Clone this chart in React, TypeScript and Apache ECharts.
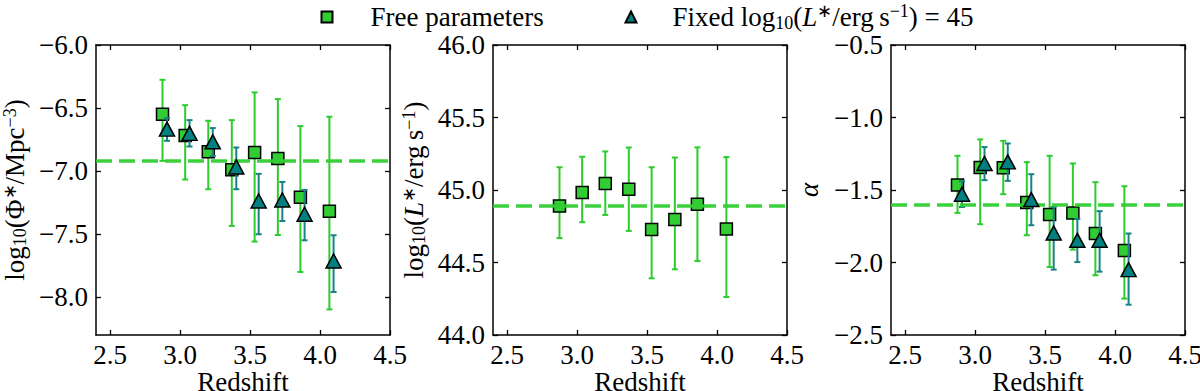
import React, { useEffect, useRef } from 'react';
import * as echarts from 'echarts';

// ---------- data ----------
const xTicks = [2.5, 3.0, 3.5, 4.0, 4.5];
const yTicksPhi = [-8.0, -7.5, -7.0, -6.5, -6.0];
const yTicksLum = [44.0, 44.5, 45.0, 45.5, 46.0];
const yTicksAlpha = [-2.5, -2.0, -1.5, -1.0, -0.5];

const zFree = [2.875, 3.037, 3.202, 3.37, 3.533, 3.699, 3.86, 4.067];
const zFixed = [2.907, 3.068, 3.234, 3.402, 3.562, 3.731, 3.89, 4.097];

const phiFree = [-6.55, -6.717, -6.847, -6.99, -6.853, -6.9, -7.207, -7.319];
const phiFreeLo = [-6.919, -7.067, -7.144, -7.435, -7.559, -7.507, -7.8, -8.097];
const phiFreeHi = [-6.276, -6.477, -6.601, -6.596, -6.376, -6.429, -6.643, -6.569];
const phiFixed = [-6.667, -6.701, -6.768, -6.967, -7.237, -7.229, -7.342, -7.713];
const phiFixedLo = [-6.76, -6.805, -6.88, -7.144, -7.501, -7.396, -7.549, -7.959];
const phiFixedHi = [-6.58, -6.596, -6.659, -6.813, -7.022, -7.086, -7.149, -7.509];

const lumFree = [44.89, 44.983, 45.045, 45.006, 44.727, 44.796, 44.902, 44.731];
const lumFreeLo = [44.669, 44.778, 44.828, 44.718, 44.391, 44.453, 44.51, 44.262];
const lumFreeHi = [45.157, 45.229, 45.266, 45.293, 45.157, 45.224, 45.294, 45.227];

const alphaFree = [-1.465, -1.345, -1.347, -1.586, -1.669, -1.658, -1.8, -1.918];
const alphaFreeLo = [-1.658, -1.736, -1.529, -1.812, -2.031, -1.911, -2.088, -2.249];
const alphaFreeHi = [-1.264, -1.151, -1.161, -1.308, -1.264, -1.317, -1.446, -1.474];
const alphaFixed = [-1.529, -1.317, -1.306, -1.566, -1.796, -1.847, -1.847, -2.049];
const alphaFixedLo = [-1.617, -1.432, -1.437, -1.743, -2.049, -1.997, -2.063, -2.291];
const alphaFixedHi = [-1.44, -1.204, -1.179, -1.391, -1.617, -1.7, -1.646, -1.8];

const fitLines = [-6.924, 44.89, -1.598];

// ---------- styles ----------
const FONT = 'Liberation Serif';
const GREEN = '#32cd32';
const GREEN_BAR = '#2ccc2c';
const TEAL = '#008080';
const TEAL_BAR = '#1a8284';

const fmt = (v: number) => (v < 0 ? '\u2212' : '') + Math.abs(v).toFixed(1);

const txt = (size: number, lh: number, extra: any = {}) => ({
  fontFamily: FONT,
  fontSize: size,
  color: '#000',
  lineHeight: lh,
  ...extra,
});

const nameRich = {
  n: txt(27, 28),
  i: txt(27, 28, { fontStyle: 'italic' }),
  sub: txt(18, 14, { verticalAlign: 'bottom' }),
  sup: txt(18, 14, { verticalAlign: 'top' }),
};

const labelRich = { a: txt(27, 29) };
const xNameRich = { a: txt(27, 20) };

const grids = [
  { left: 96, top: 45, width: 294, height: 290, outerBoundsMode: 'none', containLabel: false },
  { left: 493, top: 45, width: 294, height: 290, outerBoundsMode: 'none', containLabel: false },
  { left: 891, top: 45, width: 294, height: 290, outerBoundsMode: 'none', containLabel: false },
];

const axisLine = { show: true, onZero: false, lineStyle: { color: '#000', width: 1.5 } };

function makeXAxes(gi: number) {
  const base = {
    type: 'value',
    gridIndex: gi,
    min: 2.4,
    max: 4.5,
    splitLine: { show: false },
    axisLine,
    axisTick: { show: true, inside: true, length: 5, customValues: xTicks, lineStyle: { color: '#000', width: 1.3 } },
  };
  return [
    {
      ...base,
      position: 'bottom',
      axisLabel: {
        show: true,
        customValues: xTicks,
        formatter: (v: number) => '{a|' + fmt(v) + '}',
        margin: 5,
        fontFamily: FONT,
        fontSize: 27,
        color: '#000',
        rich: labelRich,
      },
      name: '{a|Redshift}',
      nameLocation: 'middle',
      nameMoveOverlap: false,
      nameGap: 37,
      nameTextStyle: { fontFamily: FONT, fontSize: 27, color: '#000', lineHeight: 20, rich: xNameRich },
    },
    { ...base, position: 'top', axisLabel: { show: false } },
  ];
}

function makeYAxes(gi: number, min: number, max: number, ticks: number[], name: string, nameGap: number) {
  const base = {
    type: 'value',
    gridIndex: gi,
    min,
    max,
    splitLine: { show: false },
    axisLine,
    axisTick: { show: true, inside: true, length: 5, customValues: ticks, lineStyle: { color: '#000', width: 1.3 } },
  };
  return [
    {
      ...base,
      position: 'left',
      axisLabel: {
        show: true,
        customValues: ticks,
        formatter: (v: number) => '{a|' + fmt(v) + '}',
        margin: 8,
        fontFamily: FONT,
        fontSize: 27,
        color: '#000',
        rich: labelRich,
      },
      name,
      nameLocation: 'middle',
      nameRotate: 90,
      nameGap,
      nameTextStyle: { fontFamily: FONT, fontSize: 27, color: '#000', lineHeight: 28, rich: nameRich },
    },
    { ...base, position: 'right', axisLabel: { show: false } },
  ];
}

function errSeries(gi: number, xs: number[], lo: number[], hi: number[], color: string, z: number, id: string) {
  return {
    type: 'custom',
    name: id,
    xAxisIndex: gi * 2,
    yAxisIndex: gi * 2,
    z,
    silent: true,
    data: xs.map((x, k) => [x, lo[k], hi[k]]),
    encode: { x: 0, y: [1, 2] },
    renderItem: (params: any, api: any) => {
      const x = api.value(0);
      const p1 = api.coord([x, api.value(1)]);
      const p2 = api.coord([x, api.value(2)]);
      const cap = 3;
      const style = { stroke: color, lineWidth: 2 };
      return {
        type: 'group',
        children: [
          { type: 'line', shape: { x1: p1[0], y1: p1[1], x2: p2[0], y2: p2[1] }, style },
          { type: 'line', shape: { x1: p1[0] - cap, y1: p1[1], x2: p1[0] + cap, y2: p1[1] }, style },
          { type: 'line', shape: { x1: p2[0] - cap, y1: p2[1], x2: p2[0] + cap, y2: p2[1] }, style },
        ],
      };
    },
  };
}

function fitSeries(gi: number, y: number) {
  return {
    type: 'line',
    name: 'fit' + gi,
    xAxisIndex: gi * 2,
    yAxisIndex: gi * 2,
    data: [],
    z: 1,
    silent: true,
    markLine: {
      silent: true,
      symbol: 'none',
      label: { show: false },
      lineStyle: { color: GREEN, type: [16, 7], width: 3.5, opacity: 0.95 },
      data: [{ yAxis: y }],
    },
  };
}

function freeScatter(gi: number, ys: number[]) {
  return {
    type: 'scatter',
    name: 'Free parameters',
    xAxisIndex: gi * 2,
    yAxisIndex: gi * 2,
    symbol: 'rect',
    symbolSize: 12,
    z: 3,
    itemStyle: { color: GREEN, borderColor: '#000', borderWidth: 1.5, opacity: 1 },
    data: zFree.map((x, k) => [x, ys[k]]),
  };
}

function fixedScatter(gi: number, ys: number[]) {
  return {
    type: 'scatter',
    name: 'Fixed',
    xAxisIndex: gi * 2,
    yAxisIndex: gi * 2,
    symbol: 'triangle',
    symbolSize: [15, 14],
    z: 5,
    itemStyle: { color: TEAL, borderColor: '#000', borderWidth: 1.5, opacity: 1 },
    data: zFixed.map((x, k) => [x, ys[k]]),
  };
}

const legendRich = {
  g1: txt(27, 30, { width: 33 }),
  g2: txt(27, 30, { width: 31 }),
  n: txt(27, 30),
  i: txt(27, 30, { fontStyle: 'italic' }),
  sub: txt(18, 18, { verticalAlign: 'bottom' }),
  sup: txt(18, 18, { verticalAlign: 'top' }),
};

function makeLegend(left: number, name: string, icon: string) {
  return {
    top: -3,
    left,
    itemWidth: 11,
    itemHeight: 11,
    selectedMode: false,
    data: [{ name, icon }],
    formatter: (n: string) =>
      n === 'Free parameters'
        ? '{g1| }{n|Free parameters}'
        : '{g2| }{n|Fixed log}{sub|10}{n|(}{i|L}{sup|\u2217}{n|/erg\u2009s}{sup|\u22121}{n|) = 45}',
    textStyle: { fontFamily: FONT, fontSize: 27, color: '#000', lineHeight: 30, rich: legendRich },
  };
}

export default function App() {
  const ref = useRef<HTMLDivElement>(null);
  useEffect(() => {
    if (!ref.current) return;
    const chart = echarts.init(ref.current, undefined, { renderer: 'svg' });
    const option: any = {
      animation: false,
      backgroundColor: '#fff',
      textStyle: { fontFamily: FONT },
      legend: [makeLegend(315.5, 'Free parameters', 'rect'), makeLegend(619.5, 'Fixed', 'triangle')],
      grid: grids,
      xAxis: [...makeXAxes(0), ...makeXAxes(1), ...makeXAxes(2)],
      yAxis: [
        ...makeYAxes(0, -8.3, -6.0, yTicksPhi, '{n|log}{sub|10}{n|(\u03A6}{sup|\u2217}{n|/Mpc}{sup|\u22123}{n|)}', 67),
        ...makeYAxes(1, 44.0, 46.0, yTicksLum, '{n|log}{sub|10}{n|(}{i|L}{sup|\u2217}{n|/erg\u2009s}{sup|\u22121}{n|)}', 65),
        ...makeYAxes(2, -2.5, -0.5, yTicksAlpha, '{i|\u03B1}', 68),
      ],
      series: [
        fitSeries(0, fitLines[0]),
        errSeries(0, zFree, phiFreeLo, phiFreeHi, GREEN_BAR, 2, 'errFree0'),
        freeScatter(0, phiFree),
        errSeries(0, zFixed, phiFixedLo, phiFixedHi, TEAL_BAR, 4, 'errFixed0'),
        fixedScatter(0, phiFixed),

        fitSeries(1, fitLines[1]),
        errSeries(1, zFree, lumFreeLo, lumFreeHi, GREEN_BAR, 2, 'errFree1'),
        freeScatter(1, lumFree),

        fitSeries(2, fitLines[2]),
        errSeries(2, zFree, alphaFreeLo, alphaFreeHi, GREEN_BAR, 2, 'errFree2'),
        freeScatter(2, alphaFree),
        errSeries(2, zFixed, alphaFixedLo, alphaFixedHi, TEAL_BAR, 4, 'errFixed2'),
        fixedScatter(2, alphaFixed),
      ],
    };
    chart.setOption(option);
    return () => chart.dispose();
  }, []);
  return (
    <div
      ref={ref}
      style={{ position: 'fixed', left: 0, top: 0, width: 1200, height: 391, background: '#fff' }}
    />
  );
}
